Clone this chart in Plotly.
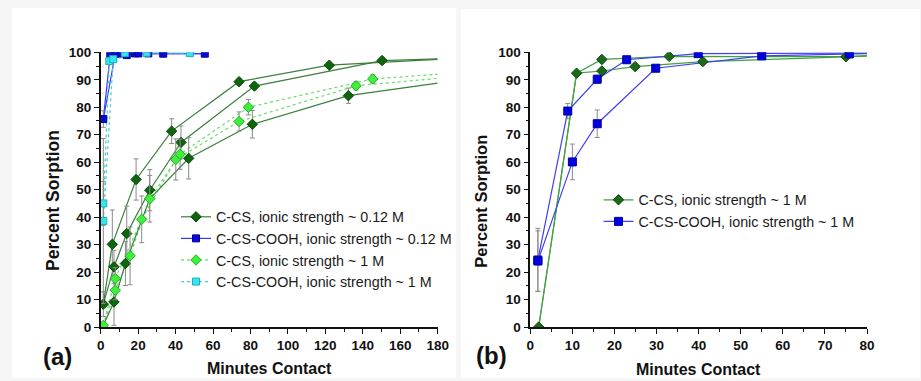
import plotly.graph_objects as go

W, H = 921, 381

# ---------------- Panel (a) data ----------------
# C-CS, ionic strength ~ 0.12 M (measured points)
a_ccs012_x = [1.4, 6.2, 7.1, 7.1, 13.2, 13.9, 18.9, 26.2, 37.9, 42.9, 47.0, 73.9, 81.0, 82.1, 122.1, 132.3, 150.3]
a_ccs012_y = [8.3, 30.1, 21.9, 9.1, 23.1, 34.0, 53.7, 49.8, 71.3, 67.2, 61.4, 89.3, 73.8, 87.7, 95.3, 84.2, 97.0]
a_ccs012_err = [4.5, 12.5, 6.0, 8.5, 8.0, 10.0, 7.5, 7.5, 4.5, 6.0, 7.5, 1.2, 5.0, 1.2, 1.0, 2.8, 1.0]
# replicate curves
a_ccs012_r1_x = [1.4, 6.2, 18.9, 37.9, 73.9, 122.1, 180]
a_ccs012_r1_y = [8.3, 30.1, 53.7, 71.3, 89.3, 95.3, 97.4]
a_ccs012_r2_x = [1.4, 7.1, 13.9, 26.2, 42.9, 82.1, 150.3, 180]
a_ccs012_r2_y = [8.3, 21.9, 34.0, 49.8, 67.2, 87.7, 97.0, 97.6]
a_ccs012_r3_x = [1.4, 7.1, 13.2, 26.2, 47.0, 81.0, 132.3, 180]
a_ccs012_r3_y = [0.6, 9.1, 23.1, 46.7, 61.4, 73.8, 84.2, 88.8]

# C-CS-COOH, ionic strength ~ 0.12 M
a_cooh012_x = [1.4, 5.1, 7.8, 10.4, 13.9, 18.3, 20.1, 25.4, 33.4, 55.6]
a_cooh012_y = [75.7, 99.3, 99.5, 99.6, 99.0, 99.6, 99.6, 99.6, 99.5, 99.5]
a_cooh012_err = [3.0, 0.5, 0.5, 0.5, 0.5, 0.5, 0.5, 0.5, 0.5, 0.5]
a_cooh012_r1_x = [1.4, 5.1, 10.4, 18.3, 25.4, 55.6]
a_cooh012_r1_y = [75.7, 99.3, 99.6, 99.6, 99.6, 99.5]
a_cooh012_r2_x = [1.4, 7.8, 13.9, 20.1, 33.4, 57.0]
a_cooh012_r2_y = [75.7, 99.5, 99.0, 99.6, 99.5, 99.5]

# C-CS, ionic strength ~ 1 M
a_ccs1_x = [1.4, 7.8, 7.8, 15.7, 21.9, 26.2, 40.1, 42.4, 73.9, 78.9, 136.4, 145.3]
a_ccs1_y = [0.6, 17.6, 13.4, 25.9, 39.2, 46.7, 61.0, 62.9, 74.8, 80.0, 87.8, 90.3]
a_ccs1_err = [0.6, 4.0, 3.5, 10.5, 8.5, 8.5, 7.5, 5.5, 3.5, 2.8, 1.5, 1.5]
a_ccs1_r1_x = [1.4, 7.8, 21.9, 40.1, 73.9, 136.4, 180]
a_ccs1_r1_y = [0.6, 17.6, 39.2, 61.0, 74.8, 87.8, 90.5]
a_ccs1_r2_x = [1.4, 7.8, 15.7, 26.2, 42.4, 78.9, 145.3, 180]
a_ccs1_r2_y = [0.6, 13.4, 25.9, 46.7, 62.9, 80.0, 90.3, 92.0]

# C-CS-COOH, ionic strength ~ 1 M
a_cooh1_x = [1.4, 1.4, 4.6, 6.7, 12.9, 24.5, 47.6]
a_cooh1_y = [45.0, 38.6, 96.8, 97.5, 99.7, 99.8, 99.7]
a_cooh1_err = [8.0, 30.0, 1.0, 1.0, 0.5, 0.5, 0.5]
a_cooh1_r1_x = [1.4, 4.6, 12.9, 47.6]
a_cooh1_r1_y = [45.0, 96.8, 99.7, 99.7]
a_cooh1_r2_x = [1.4, 6.7, 24.5, 47.6]
a_cooh1_r2_y = [38.6, 97.5, 99.8, 99.7]

# ---------------- Panel (b) data ----------------
b_ccs_x = [2.0, 11.0, 17.0, 17.0, 24.9, 33.0, 41.0, 75.0]
b_ccs_y = [0.0, 92.4, 97.4, 93.2, 94.8, 98.5, 96.6, 98.4]
b_ccs_err = [0.0, 1.0, 1.0, 1.0, 1.0, 0.8, 0.8, 0.8]
b_ccs_r1_x = [2.0, 11.0, 17.0, 33.0, 75.0, 80]
b_ccs_r1_y = [0.0, 92.4, 97.4, 98.5, 98.4, 98.8]
b_ccs_r2_x = [2.0, 11.0, 17.0, 24.9, 41.0, 80]
b_ccs_r2_y = [0.0, 92.4, 93.2, 94.8, 96.6, 98.6]

b_cooh_x = [1.8, 1.8, 8.9, 10.0, 15.9, 15.9, 22.9, 29.8, 39.9, 55.0, 75.8]
b_cooh_y = [24.4, 24.0, 78.6, 60.1, 90.2, 74.0, 97.3, 94.2, 99.5, 98.7, 99.4]
b_cooh_err = [11.5, 11.0, 2.8, 6.5, 1.5, 5.0, 0.8, 0.8, 0.5, 0.5, 0.5]
b_cooh_r1_x = [1.8, 8.9, 15.9, 22.9, 39.9, 80]
b_cooh_r1_y = [24.4, 78.6, 90.2, 97.3, 99.5, 99.7]
b_cooh_r2_x = [1.8, 10.0, 15.9, 29.8, 55.0, 75.8, 80]
b_cooh_r2_y = [24.0, 60.1, 74.0, 94.2, 98.7, 99.4, 99.5]

# ---------------- styles ----------------
DKG_LINE = "#3c7f3c"
DKG_FILL = "#0e650e"
DKG_EDGE = "#074a07"
LTG_LINE = "#66dd66"
LTG_FILL = "#3cf03c"
LTG_EDGE = "#22b022"
BLU_LINE = "#3a3aff"
BLU_FILL = "#0a0ad0"
CYN_LINE = "#40d0d0"
CYN_FILL = "#33e6ee"
B_GRN_LINE = "#45a045"
B_DIA_FILL = "#1a6a1a"
B_BLU_LINE = "#4040f0"
B_BLU_FILL = "#0000e0"
ERR = "#8a8a8a"
FONT = "Liberation Sans, Arial, sans-serif"

fig = go.Figure()


def add_line(x, y, color, dash, xa, ya, width=1.2):
    fig.add_trace(go.Scatter(x=x, y=y, mode="lines", xaxis=xa, yaxis=ya,
                             line=dict(color=color, width=width, dash=dash),
                             showlegend=False, hoverinfo="skip"))


def add_pts(x, y, err, symbol, size, fill, edge, xa, ya):
    fig.add_trace(go.Scatter(x=x, y=y, mode="markers", xaxis=xa, yaxis=ya,
                             marker=dict(symbol=symbol, size=size, color=fill,
                                         line=dict(color=edge, width=1)),
                             error_y=dict(type="data", array=err, color=ERR,
                                          thickness=1, width=2.5),
                             showlegend=False))


# Panel (a) lines
for rx, ry in [(a_ccs1_r1_x, a_ccs1_r1_y), (a_ccs1_r2_x, a_ccs1_r2_y)]:
    add_line(rx, ry, LTG_LINE, "dot", "x", "y")
for rx, ry in [(a_ccs012_r1_x, a_ccs012_r1_y), (a_ccs012_r2_x, a_ccs012_r2_y),
               (a_ccs012_r3_x, a_ccs012_r3_y)]:
    add_line(rx, ry, DKG_LINE, "solid", "x", "y")
for rx, ry in [(a_cooh012_r1_x, a_cooh012_r1_y), (a_cooh012_r2_x, a_cooh012_r2_y)]:
    add_line(rx, ry, BLU_LINE, "solid", "x", "y")
for rx, ry in [(a_cooh1_r1_x, a_cooh1_r1_y), (a_cooh1_r2_x, a_cooh1_r2_y)]:
    add_line(rx, ry, CYN_LINE, "dot", "x", "y")

# Panel (a) markers
add_pts(a_ccs012_x, a_ccs012_y, a_ccs012_err, "diamond", 8, DKG_FILL, DKG_EDGE, "x", "y")
add_pts(a_ccs1_x, a_ccs1_y, a_ccs1_err, "diamond", 8, LTG_FILL, LTG_EDGE, "x", "y")
add_pts(a_cooh012_x, a_cooh012_y, a_cooh012_err, "square", 7, BLU_FILL, "#0000a0", "x", "y")
add_pts(a_cooh1_x, a_cooh1_y, a_cooh1_err, "square", 7, CYN_FILL, "#20b0b8", "x", "y")

# Panel (b)
for rx, ry in [(b_ccs_r1_x, b_ccs_r1_y), (b_ccs_r2_x, b_ccs_r2_y)]:
    add_line(rx, ry, B_GRN_LINE, "solid", "x2", "y2")
for rx, ry in [(b_cooh_r1_x, b_cooh_r1_y), (b_cooh_r2_x, b_cooh_r2_y)]:
    add_line(rx, ry, B_BLU_LINE, "solid", "x2", "y2")
add_pts(b_ccs_x, b_ccs_y, b_ccs_err, "diamond", 8, B_DIA_FILL, "#0b4a0b", "x2", "y2")
add_pts(b_cooh_x, b_cooh_y, b_cooh_err, "square", 8, B_BLU_FILL, "#0000a0", "x2", "y2")

# legend entries
legend_a = [
    ("C-CS, ionic strength ~ 0.12 M", DKG_LINE, "solid", "diamond", 8, DKG_FILL, DKG_EDGE),
    ("C-CS-COOH, ionic strength ~ 0.12 M", BLU_LINE, "solid", "square", 7, BLU_FILL, "#0000a0"),
    ("C-CS, ionic strength ~ 1 M", LTG_LINE, "dot", "diamond", 8, LTG_FILL, LTG_EDGE),
    ("C-CS-COOH, ionic strength ~ 1 M", CYN_LINE, "dot", "square", 7, CYN_FILL, "#20b0b8"),
]
for name, lc, dash, sym, sz, fc, ec in legend_a:
    fig.add_trace(go.Scatter(x=[None], y=[None], mode="lines+markers", name=name,
                             xaxis="x", yaxis="y", legend="legend",
                             line=dict(color=lc, width=1.2, dash=dash),
                             marker=dict(symbol=sym, size=sz, color=fc,
                                         line=dict(color=ec, width=1))))
legend_b = [
    ("C-CS, ionic strength ~ 1 M", B_GRN_LINE, "diamond", 8, B_DIA_FILL, "#0b4a0b"),
    ("C-CS-COOH, ionic strength ~ 1 M", B_BLU_LINE, "square", 8, B_BLU_FILL, "#0000a0"),
]
for name, lc, sym, sz, fc, ec in legend_b:
    fig.add_trace(go.Scatter(x=[None], y=[None], mode="lines+markers", name=name,
                             xaxis="x2", yaxis="y2", legend="legend2",
                             line=dict(color=lc, width=1.2),
                             marker=dict(symbol=sym, size=sz, color=fc,
                                         line=dict(color=ec, width=1))))


def px(v):
    return v / W


def py(v):
    return 1 - v / H


ydom = [py(327.0), py(52.3)]
tickfont = dict(family=FONT, size=13.5, color="#111", weight="bold")


def xax(dom, rng, dt, mdt, anchor):
    return dict(domain=dom, range=rng, dtick=dt, tick0=0, anchor=anchor,
                automargin=False,
                showgrid=False, zeroline=False, showline=True, linecolor="#111",
                linewidth=1.5, ticks="outside", ticklen=5, tickwidth=1.3,
                tickcolor="#111", tickfont=tickfont,
                minor=dict(dtick=mdt, ticks="outside", ticklen=3, tickwidth=1.1,
                           tickcolor="#111", showgrid=False))


fig.update_layout(
    width=W, height=H, margin=dict(l=0, r=0, t=0, b=0, pad=0, autoexpand=False),
    paper_bgcolor="#f6f6f6", plot_bgcolor="rgba(0,0,0,0)",
    font=dict(family=FONT, color="#111"),
    xaxis=xax([px(100.7), px(437.7)], [0, 180], 20, 10, "y"),
    yaxis=xax(ydom, [0, 100], 10, 5, "x"),
    xaxis2=xax([px(530.3), px(867.0)], [0, 80], 10, 5, "y2"),
    yaxis2=xax(ydom, [0, 100], 10, 5, "x2"),
    legend=dict(x=px(176), y=py(201), xanchor="left", yanchor="top",
                bgcolor="rgba(0,0,0,0)", borderwidth=0,
                font=dict(family=FONT, size=14.3, color="#1a1a1a"),
                tracegroupgap=0, itemwidth=30),
    legend2=dict(x=px(598.5), y=py(184), xanchor="left", yanchor="top",
                 bgcolor="rgba(0,0,0,0)", borderwidth=0,
                 font=dict(family=FONT, size=14.3, color="#1a1a1a"),
                 tracegroupgap=0, itemwidth=30),
    shapes=[
        dict(type="rect", xref="paper", yref="paper", x0=px(12), x1=px(456),
             y0=py(378), y1=py(8), fillcolor="white", line=dict(width=0), layer="below"),
        dict(type="rect", xref="paper", yref="paper", x0=px(461), x1=px(920),
             y0=py(378), y1=py(9), fillcolor="white", line=dict(width=0), layer="below"),
    ],
)

ann = []
title_font = dict(family=FONT, size=16, color="#111", weight="bold")
for x, y, t in [(269.2, 368.5, "Minutes Contact"), (698.6, 369, "Minutes Contact")]:
    ann.append(dict(x=px(x), y=py(y), xref="paper", yref="paper", text=t,
                    showarrow=False, font=title_font, xanchor="center", yanchor="middle"))
for x, y, s in [(53, 201, 17.5), (480.7, 201, 16.5)]:
    ann.append(dict(x=px(x), y=py(y), xref="paper", yref="paper", text="Percent Sorption",
                    textangle=-90, showarrow=False,
                    font=dict(family=FONT, size=s, color="#111", weight="bold"),
                    xanchor="center", yanchor="middle"))
for x, y, t in [(57.5, 356, "(a)"), (491, 355, "(b)")]:
    ann.append(dict(x=px(x), y=py(y), xref="paper", yref="paper", text=t,
                    showarrow=False,
                    font=dict(family=FONT, size=24, color="#111", weight="bold"),
                    xanchor="center", yanchor="middle"))
fig.update_layout(annotations=ann)

fig.write_html("out.html")
